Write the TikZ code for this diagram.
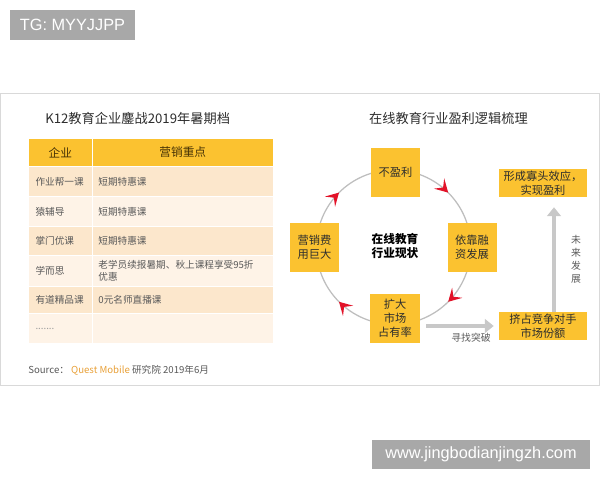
\documentclass[tikz,border=0pt]{standalone}
\usepackage{fontspec}
\setmainfont{Noto Sans CJK SC}
\newfontfamily\latinfont{Liberation Sans}
\usepackage{tikz}
\usetikzlibrary{arrows.meta,positioning,decorations.markings}
\usepackage{xcolor}
\definecolor{taggray}{RGB}{168,168,168}
\definecolor{qmgold}{RGB}{251,194,48}
\definecolor{rowdark}{RGB}{252,231,204}
\definecolor{rowlight}{RGB}{254,243,231}
\definecolor{framegray}{RGB}{217,217,217}
\definecolor{textgray}{RGB}{89,89,89}
\definecolor{titlegray}{RGB}{45,45,45}
\definecolor{headbrown}{RGB}{70,50,5}
\definecolor{qmorange}{RGB}{232,160,56}
\definecolor{cyclered}{RGB}{226,18,40}
\definecolor{flowgray}{RGB}{200,200,200}
\definecolor{ringgray}{RGB}{190,190,190}

\begin{document}
\begin{tikzpicture}[
    tag/.style={rectangle, fill=taggray, text=white, inner sep=0pt,
                font=\latinfont\fontsize{11.6}{13}\selectfont},
    title/.style={font=\fontsize{9.4}{11}\selectfont, text=titlegray, inner sep=0pt},
    headcell/.style={rectangle, fill=qmgold, draw=white, line width=0.8pt, anchor=north west,
                     font=\fontsize{8.3}{10}\selectfont, text=headbrown, inner sep=0pt},
    firmcell/.style={rectangle, draw=white, line width=0.8pt, anchor=north west,
                     text width=1.2375cm, inner xsep=0.175cm, inner ysep=0pt, align=left,
                     font=\fontsize{6.85}{8.5}\selectfont, text=textgray},
    focuscell/.style={firmcell, text width=4.2175cm, inner xsep=0.16cm},
    state/.style={rectangle, fill=qmgold, minimum width=1.225cm, minimum height=1.225cm,
                  inner sep=0pt, align=center, font=\fontsize{8}{10}\selectfont, text=titlegray},
    outcome/.style={rectangle, fill=qmgold, minimum width=2.2cm, minimum height=0.7cm,
                    inner sep=0pt, align=center, font=\fontsize{8}{9.6}\selectfont, text=titlegray},
    note/.style={font=\fontsize{7}{9.25}\selectfont, text=textgray, inner sep=0pt, align=center},
    flow/.style={-{Triangle[length=2.2mm, width=3.4mm]}, line width=3.5pt, draw=flowgray},
    ring/.style={draw=ringgray, line width=0.9pt, postaction={decorate},
                 decoration={markings,
                   mark=at position 0.125 with {\arrow[cyclered]{Stealth[length=3.2mm, width=3.6mm, inset=1.4mm]}},
                   mark=at position 0.375 with {\arrow[cyclered]{Stealth[length=3.2mm, width=3.6mm, inset=1.4mm]}},
                   mark=at position 0.625 with {\arrow[cyclered]{Stealth[length=3.2mm, width=3.6mm, inset=1.4mm]}},
                   mark=at position 0.875 with {\arrow[cyclered]{Stealth[length=3.2mm, width=3.6mm, inset=1.4mm]}}}}
]
\useasboundingbox (0,0) rectangle (15,12);

% Tags outside the panel
\node[tag, minimum width=3.125cm, minimum height=0.75cm] (tg) at (1.8125, 11.375) {TG: MYYJJPP};
\node[tag, minimum width=5.45cm, minimum height=0.725cm] (site) at (12.025, 0.6375) {www.jingbodianjingzh.com};

% Panel frame
\draw[framegray, line width=0.7pt] (0.0125, 2.375) rectangle (14.975, 9.675);

% Left half: campaign table
\node[title, anchor=west] (k12-title) at (1.125, 9.05) {K12教育企业鏖战2019年暑期档};

\node[headcell, minimum width=1.5875cm, minimum height=0.7cm] (h-firm) at (0.7, 8.55) {企业};
\node[headcell, minimum width=4.5375cm, minimum height=0.7cm] (h-focus) at (2.2875, 8.55) {营销重点};

\node[firmcell, fill=rowdark, minimum height=0.75cm] (zyb-firm) at (0.7, 7.85) {作业帮一课};
\node[focuscell, fill=rowdark, minimum height=0.75cm] (zyb-focus) at (2.2875, 7.85) {短期特惠课};
\node[firmcell, fill=rowlight, minimum height=0.75cm] (yfd-firm) at (0.7, 7.1) {猿辅导};
\node[focuscell, fill=rowlight, minimum height=0.75cm] (yfd-focus) at (2.2875, 7.1) {短期特惠课};
\node[firmcell, fill=rowdark, minimum height=0.725cm] (zm-firm) at (0.7, 6.35) {掌门优课};
\node[focuscell, fill=rowdark, minimum height=0.725cm] (zm-focus) at (2.2875, 6.35) {短期特惠课};
\node[firmcell, fill=rowlight, minimum height=0.775cm] (xes-firm) at (0.7, 5.625) {学而思};
\node[focuscell, fill=rowlight, minimum height=0.775cm] (xes-focus) at (2.2875, 5.625) {老学员续报暑期、秋上课程享受95折\\优惠};
\node[firmcell, fill=rowdark, minimum height=0.675cm] (yd-firm) at (0.7, 4.85) {有道精品课};
\node[focuscell, fill=rowdark, minimum height=0.675cm] (yd-focus) at (2.2875, 4.85) {0元名师直播课};
\node[firmcell, fill=rowlight, minimum height=0.75cm, text=textgray!60] (etc-firm) at (0.7, 4.175) {.......};
\node[focuscell, fill=rowlight, minimum height=0.75cm] (etc-focus) at (2.2875, 4.175) {};

\node[anchor=west, font=\fontsize{6.85}{8}\selectfont, text=textgray, inner sep=0pt] (source) at (0.7, 2.75)
     {Source： \textcolor{qmorange}{Quest Mobile} 研究院 2019年6月};

% Right half: profit logic
\node[title] (logic-title) at (11.2125, 9.05) {在线教育行业盈利逻辑梳理};

\coordinate (hub) at (9.84, 5.82);
\draw[ring] (hub) ++(180:1.93) arc (180:-180:1.93);

\node[state] (loss) at (9.8875, 7.6875) {不盈利};
\node[state] (funding) at (11.8, 5.8125) {依靠融\\资发展};
\node[state, minimum width=1.25cm] (expand) at (9.875, 4.0375) {扩大\\市场\\占有率};
\node[state] (spend) at (7.8625, 5.8125) {营销费\\用巨大};
\node[font=\fontsize{8.3}{10}\selectfont\bfseries, text=black, align=center, inner sep=0pt] (status) at (9.875, 5.85) {在线教育\\行业现状};

% Way out
\node[outcome] (squeeze) at (13.575, 3.85) {挤占竞争对手\\市场份额};
\node[outcome] (oligopoly) at (13.575, 7.425) {形成寡头效应，\\实现盈利};

\draw[flow, shorten <=0.15cm, shorten >=0.125cm] (expand.east |- squeeze.west) -- (squeeze.west);
\draw[flow, shorten >=0.25cm] ([xshift=0.275cm]squeeze.north) -- ([xshift=0.275cm]oligopoly.south);

\node[note, anchor=north east] (breakout) at (12.275, 3.675) {寻找突破};
\node[note] (future) at (14.4, 5.5125) {未\\来\\发\\展};

\end{tikzpicture}
\end{document}
